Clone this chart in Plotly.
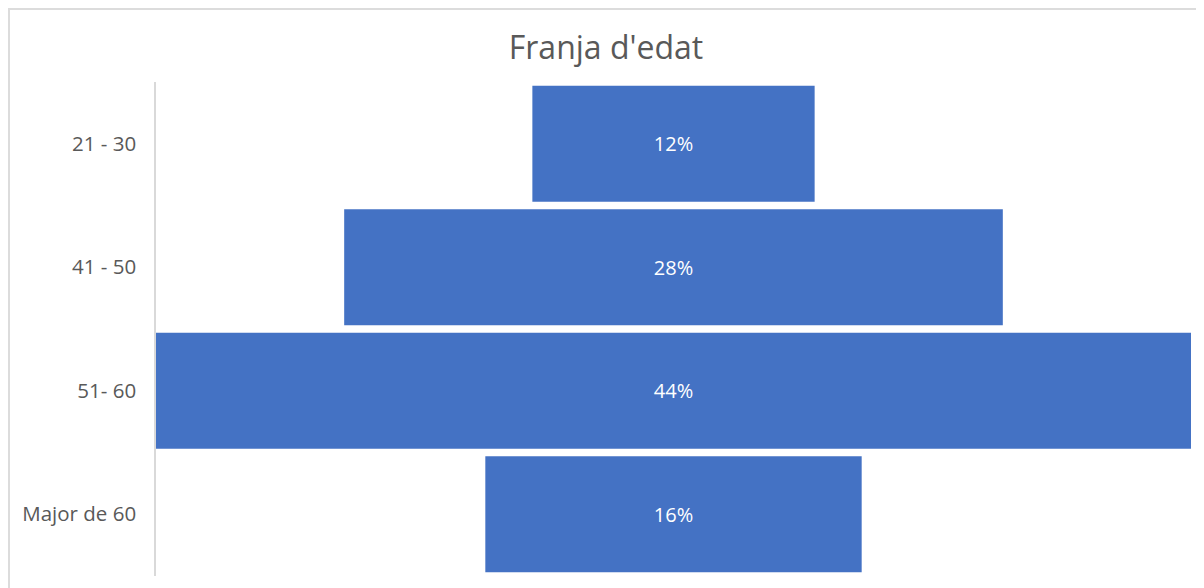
import plotly.graph_objects as go

categories = ["21 - 30", "41 - 50", "51- 60", "Major de 60"]
values = [12, 28, 44, 16]
labels = ["12%", "28%", "44%", "16%"]

fig = go.Figure(go.Funnel(
    y=categories,
    x=values,
    text=labels,
    texttemplate="%{text}",
    textposition="inside",
    insidetextanchor="middle",
    textfont=dict(color="white", size=20, family="Open Sans"),
    marker=dict(color="#4472C4", line=dict(width=0)),
    connector=dict(visible=False),
    hoverinfo="y+text",
))

# page body has an 8px margin, so figure is laid out in its own coordinates
W, H = 1196, 580
ml, mr, mt, mb = 148, 13, 74, 12
pw, ph = W - ml - mr, H - mt - mb
def px(x):
    return (x - ml) / pw
def py(y):
    return (H - mb - y) / ph

fig.update_layout(
    width=W, height=H,
    margin=dict(l=ml, r=mr, t=mt, b=mb, pad=0),
    paper_bgcolor="white", plot_bgcolor="white",
    title=dict(text="Franja d'edat", x=0.5, xanchor="center", xref="container",
               y=1 - 40 / H, yanchor="middle",
               font=dict(family="Open Sans", size=32, color="#595959")),
    funnelgap=0.06,
    showlegend=False,
    xaxis=dict(range=[-22, 22], visible=False, fixedrange=True),
    yaxis=dict(showline=True, linecolor="#d9d9d9", linewidth=1.5, ticks="",
               tickfont=dict(family="Open Sans", size=20.5, color="#595959"),
               ticklabelstandoff=14, showgrid=False, zeroline=False),
    shapes=[dict(type="rect", xref="paper", yref="paper",
                 x0=px(1), x1=px(1230), y0=py(620), y1=py(1),
                 line=dict(color="#dcdcdc", width=2), fillcolor="rgba(0,0,0,0)",
                 layer="below")],
)

fig.write_html("out.html")
